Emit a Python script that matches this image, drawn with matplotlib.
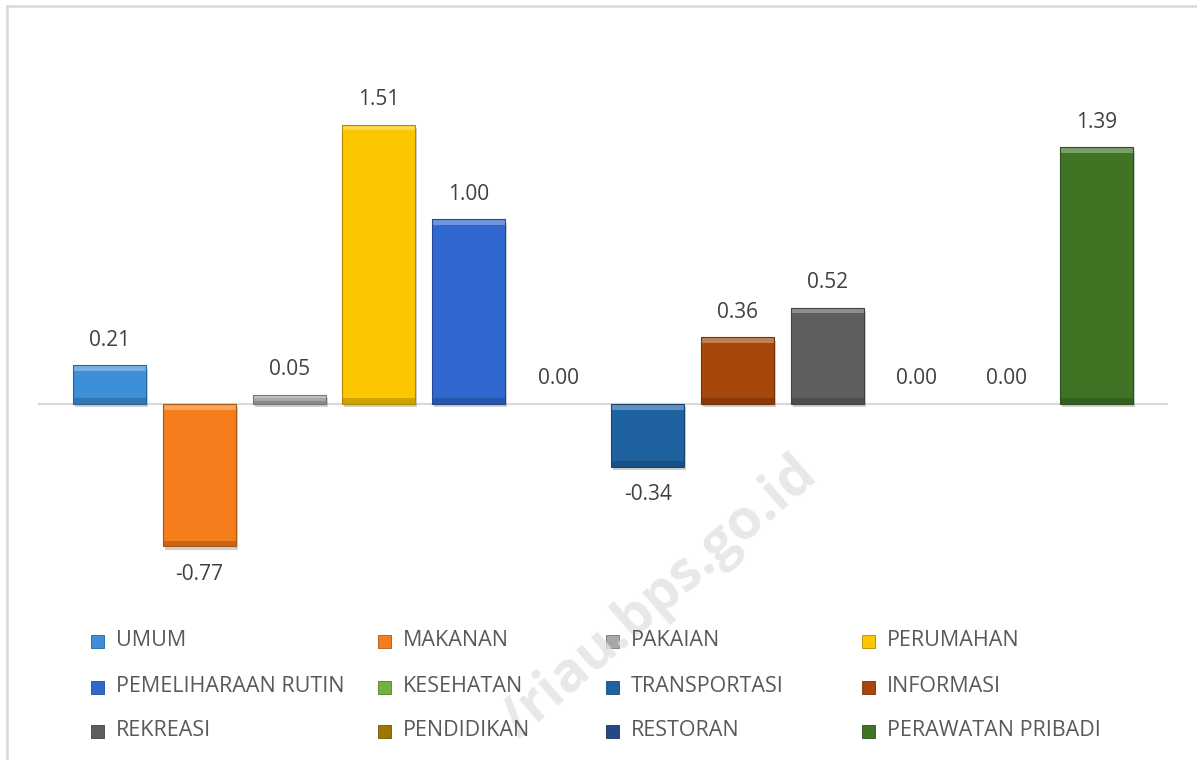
import matplotlib
matplotlib.use("Agg")
import matplotlib.pyplot as plt
import matplotlib.patheffects as pe
from matplotlib.patches import Rectangle
from matplotlib.lines import Line2D
import numpy as np

# data
categories = ['UMUM', 'MAKANAN', 'PAKAIAN', 'PERUMAHAN',
              'PEMELIHARAAN RUTIN', 'KESEHATAN', 'TRANSPORTASI', 'INFORMASI',
              'REKREASI', 'PENDIDIKAN', 'RESTORAN', 'PERAWATAN PRIBADI']
values = [0.21, -0.77, 0.05, 1.51, 1.00, 0.00, -0.34, 0.36, 0.52, 0.00, 0.00, 1.39]
colors = ['#3d8fd8', '#f57d1c', '#a8a8a8', '#fcc600',
          '#3068d0', '#72b340', '#1f62a0', '#a8470c',
          '#5e5e5e', '#9e7700', '#234a86', '#3f7425']

plt.rcParams['font.family'] = ['Open Sans', 'DejaVu Sans']

W, H = 1197, 760
fig = plt.figure(figsize=(W / 100, H / 100), dpi=100)

# pixel layout of plot area
px_left, px_right = 38, 1168
px_top, px_bot = 40, 600
px_zero, px_per_unit = 404, 184.8

ax = fig.add_axes([px_left / W, 1 - px_bot / H,
                   (px_right - px_left) / W, (px_bot - px_top) / H])
ax.set_xlim(-0.80, len(values) - 1 + 0.80)
ax.set_ylim(-(px_bot - px_zero) / px_per_unit, (px_zero - px_top) / px_per_unit)
ax.axis('off')

ax.axhline(0, color='#d9d9d9', lw=1.6, zorder=1)

x = np.arange(len(values))
bw = 0.815
shadow = [pe.SimplePatchShadow(offset=(1.5, -2.5), shadow_rgbFace='k', alpha=0.18), pe.Normal()]
bars = ax.bar(x, values, width=bw, color=colors, edgecolor='none', zorder=3)
for b in bars:
    b.set_path_effects(shadow)

# bevel: light strip at top edge, darker strip at bottom edge
bev = 0.03
for xi, v, c in zip(x, values, colors):
    if v == 0:
        continue
    rgb = np.array(matplotlib.colors.to_rgb(c))
    light = rgb + (1 - rgb) * 0.3
    dark = rgb * 0.82
    top, bottom = max(v, 0), min(v, 0)
    h = min(bev, abs(v) / 3)
    ax.bar(xi, h, bottom=top - h, width=bw, color=light, zorder=4)
    ax.bar(xi, h, bottom=bottom, width=bw, color=dark, zorder=4)
    ax.bar(xi, v, width=bw, color='none', edgecolor=rgb * 0.7, lw=0.8, zorder=5)

# data labels
for xi, v in zip(x, values):
    off = -20 if v < 0 else 18
    ax.annotate(f'{v:.2f}', (xi, v), xytext=(0, off), textcoords='offset points',
                ha='center', va='center', fontsize=15, color='#404040')

# legend drawn by hand (4 columns x 3 rows)
col_x = [91, 378, 606, 862]
row_y = [641, 687, 731]
ms = 13
for i, (name, c) in enumerate(zip(categories, colors)):
    cx = col_x[i % 4]
    cy = row_y[i // 4]
    fig.patches.append(Rectangle((cx / W, 1 - (cy + ms / 2) / H), ms / W, ms / H,
                                 transform=fig.transFigure, facecolor=c,
                                 edgecolor=np.array(matplotlib.colors.to_rgb(c)) * 0.7, lw=0.6))
    fig.text((cx + ms + 12) / W, 1 - cy / H, name, ha='left', va='center',
             fontsize=15.5, color='#595959', zorder=5)

# chart border (top and left visible)
fig.add_artist(Line2D([7 / W, 1], [1 - 6 / H, 1 - 6 / H], transform=fig.transFigure,
                      color='#d9d9d9', lw=1.8))
fig.add_artist(Line2D([7 / W, 7 / W], [0, 1 - 6 / H], transform=fig.transFigure,
                      color='#d9d9d9', lw=1.8))

# watermark (behind the legend text)
fig.text(660 / W, 1 - 598 / H, '/riau.bps.go.id', rotation=41, ha='center', va='center',
         fontsize=40, fontweight='bold', color='#e3e3e3', alpha=0.8, zorder=2)

fig.savefig('out.png', dpi=100, facecolor='white')
